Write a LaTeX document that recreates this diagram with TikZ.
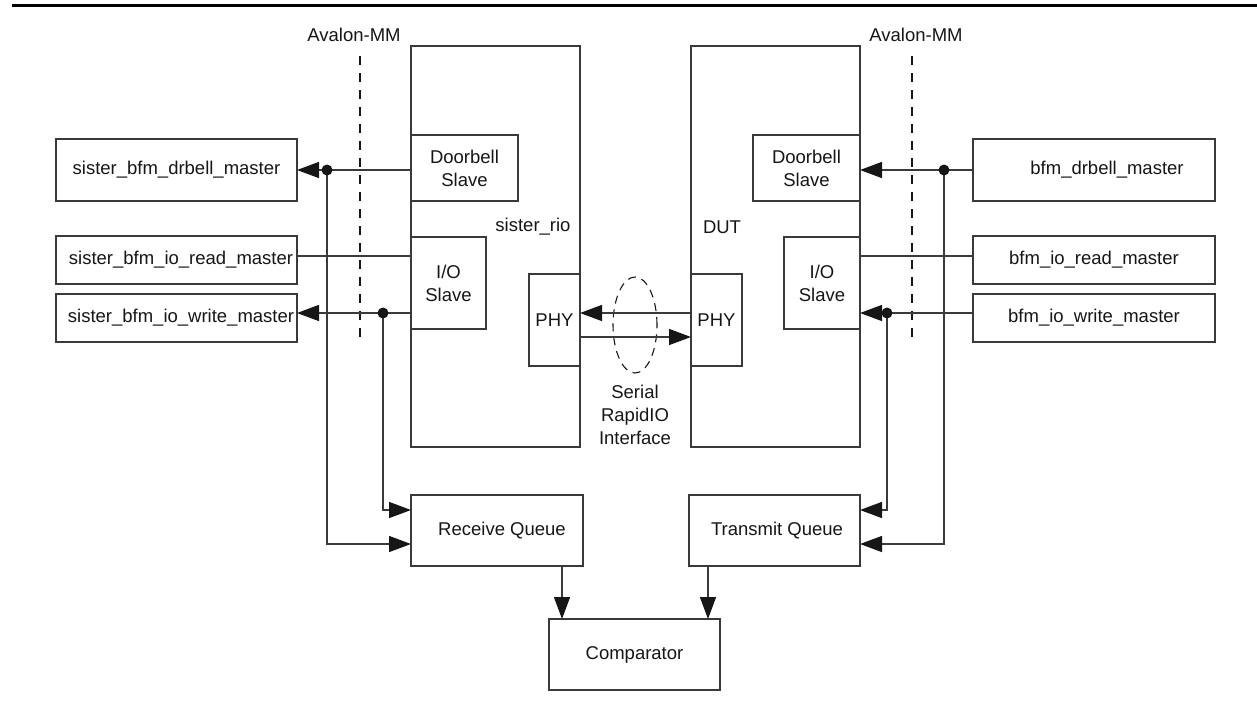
\documentclass[tikz,border=0pt]{standalone}
\usepackage{fontspec}
\setmainfont{Liberation Sans}
\usetikzlibrary{arrows.meta,calc}
\definecolor{ln}{HTML}{3a3a3a}
\definecolor{tx}{HTML}{161616}
\begin{document}
\begin{tikzpicture}[x=1pt,y=-1pt,
  every node/.style={font=\fontsize{18.5}{23}\selectfont, text=tx},
  box/.style={draw=ln, line width=1.4pt, inner sep=0pt, outer sep=0pt, align=center, fill=white},
  conn/.style={draw=ln, line width=1.4pt},
  arr/.style={conn, -{Triangle[length=22pt,width=16pt,color=tx]}},
  dot/.style={fill=tx},
  avl/.style={draw=tx, line width=1.2pt, dash pattern=on 9pt off 8pt}]
\useasboundingbox (0,0) rectangle (1257,702);
% top rule
\draw[line width=3pt, black] (12,5) -- (1257,5);
% Avalon-MM labels and boundaries
\node (avl) at (354,35) {Avalon-MM};
\node (avr) at (916,35) {Avalon-MM};
\draw[avl] (360,56) -- (360,342);
\draw[avl] (912,56) -- (912,342);
% big blocks
\node[box, minimum width=169pt, minimum height=401pt] (srio) at (495.5,246.5) {};
\node[box, minimum width=169pt, minimum height=401pt] (dut) at (775.5,246.5) {};
\node (sriolab) at (533,227) {sister\_rio};
\node (dutlab) at (722,227) {DUT};
% sub blocks
\node[box, minimum width=107pt, minimum height=66pt] (dbsl) at (464.5,168) {Doorbell\\Slave};
\node[box, minimum width=75pt, minimum height=92pt] (iosl) at (448.5,283) {I/O\\Slave};
\node[box, minimum width=51pt, minimum height=92pt] (phyl) at (554.5,320) {PHY};
\node[box, minimum width=107pt, minimum height=66pt] (dbsr) at (806.5,168) {Doorbell\\Slave};
\node[box, minimum width=76pt, minimum height=92pt] (iosr) at (822,283) {I/O\\Slave};
\node[box, minimum width=51pt, minimum height=92pt] (phyr) at (716.5,320) {PHY};
% BFM masters
\node[box, minimum width=241pt, minimum height=62pt] (sbdm) at (176.5,170) {sister\_bfm\_drbell\_master};
\node[box, minimum width=241pt, minimum height=48pt] (sbrm) at (176.5,260) {\hspace*{9pt}sister\_bfm\_io\_read\_master};
\node[box, minimum width=241pt, minimum height=48pt] (sbwm) at (176.5,318) {\hspace*{9pt}sister\_bfm\_io\_write\_master};
\node[box, minimum width=242pt, minimum height=62pt] (bdm) at (1094,170) {\hspace*{26pt}bfm\_drbell\_master};
\node[box, minimum width=242pt, minimum height=48pt] (brm) at (1094,260) {bfm\_io\_read\_master};
\node[box, minimum width=242pt, minimum height=48pt] (bwm) at (1094,318) {bfm\_io\_write\_master};
% queues and comparator
\node[box, minimum width=172pt, minimum height=71pt] (rq) at (497,530.5) {\hspace*{10pt}Receive Queue};
\node[box, minimum width=171pt, minimum height=71pt] (tq) at (774.5,530.5) {\hspace*{5pt}Transmit Queue};
\node[box, minimum width=171pt, minimum height=71pt] (cmp) at (634.5,654.5) {Comparator};
% serial link
\draw[tx, line width=1.1pt, dash pattern=on 8pt off 6pt] (635,325) ellipse [x radius=22pt, y radius=48pt];
\node[align=center] (srl) at (635,415) {Serial\\RapidIO\\Interface};
\draw[arr] ([yshift=7pt]phyr.west) -- ([yshift=7pt]phyl.east);
\draw[arr] ([yshift=-17pt]phyl.east) -- ([yshift=-17pt]phyr.west);
% left side connectors
\coordinate (dl1) at (327,170);
\coordinate (dl2) at (383,313);
\draw[arr] (dbsl.west |- sbdm.east) -- (sbdm.east);
\draw[conn] ([yshift=4pt]sbrm.east) -- ([yshift=4pt]sbrm.east -| iosl.west);
\draw[arr] ([yshift=5pt]sbwm.east -| iosl.west) -- ([yshift=5pt]sbwm.east);
\draw[arr] (dl1) |- ([yshift=-13.5pt]rq.west);
\draw[arr] (dl2) |- ([yshift=20.5pt]rq.west);
\fill[dot] (dl1) circle (5.5pt);
\fill[dot] (dl2) circle (5.5pt);
% right side connectors
\coordinate (dr1) at (944,170);
\coordinate (dr2) at (887,313);
\draw[arr] (bdm.west) -- (bdm.west -| dbsr.east);
\draw[conn] ([yshift=4pt]brm.west) -- ([yshift=4pt]brm.west -| iosr.east);
\draw[arr] ([yshift=5pt]bwm.west) -- ([yshift=5pt]bwm.west -| iosr.east);
\draw[arr] (dr1) |- ([yshift=-13.5pt]tq.east);
\draw[arr] (dr2) |- ([yshift=20.5pt]tq.east);
\fill[dot] (dr1) circle (5.5pt);
\fill[dot] (dr2) circle (5.5pt);
% to comparator
\draw[arr] ([xshift=65pt]rq.south) -- ([xshift=65pt]rq.south |- cmp.north);
\draw[arr] ([xshift=-66.5pt]tq.south) -- ([xshift=-66.5pt]tq.south |- cmp.north);
\end{tikzpicture}
\end{document}
